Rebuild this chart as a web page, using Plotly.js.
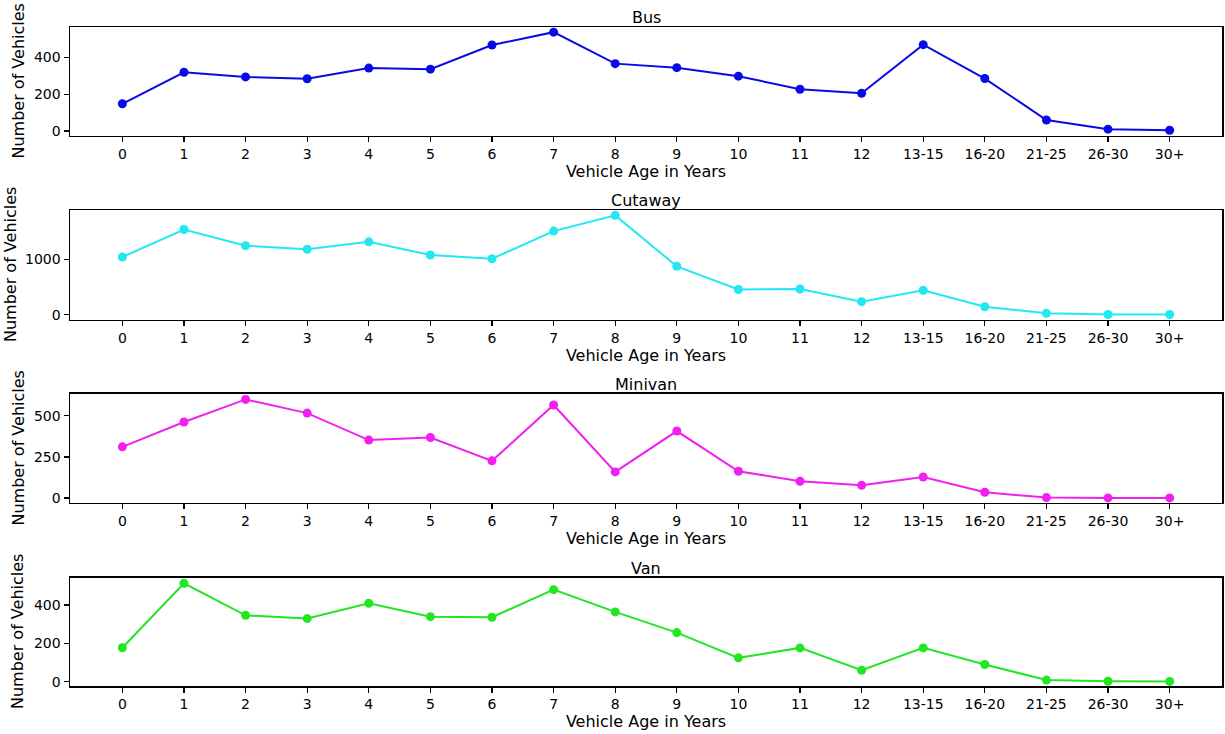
<!DOCTYPE html>
<html>
<head>
<meta charset="utf-8">
<script src="https://cdn.plot.ly/plotly-3.0.1.min.js"></script>
<style>html,body{margin:0;padding:0;background:#fff;}#chart{width:1225px;height:734px;}</style>
</head>
<body>
<div id="chart"></div>
<script>
const ageLabels = ["0","1","2","3","4","5","6","7","8","9","10","11","12","13-15","16-20","21-25","26-30","30+"];
const busValues = [148, 319, 294, 284, 342, 336, 467, 537, 366, 344, 298, 227, 205, 469, 285, 60, 10, 4];
const cutawayValues = [1042, 1538, 1247, 1182, 1315, 1078, 1011, 1509, 1793, 873, 455, 465, 236, 442, 145, 25, 5, 4];
const minivanValues = [311, 462, 599, 516, 352, 368, 226, 565, 159, 407, 163, 102, 78, 128, 35, 3, 1, 1];
const vanValues = [177, 513, 346, 329, 409, 339, 336, 480, 364, 256, 124, 176, 59, 176, 89, 8, 2, 1];
const seriesNames = ["Bus", "Cutaway", "Minivan", "Van"];
const seriesColors = ["#0a0ae8", "#22e8f2", "#f020f0", "#22e622"];

const allValues = [busValues, cutawayValues, minivanValues, vanValues];
const yRanges = [[-27, 565], [-95, 1890], [-30, 632], [-23, 541]];
const yDticks = [200, 1000, 250, 200];
const domains = [[0.8346, 1.0], [0.5554, 0.7223], [0.2777, 0.4431], [0.0, 0.1639]];
const yTitleShift = [-52, -59, -52, -52];

const traces = [];
const layout = {
  width: 1225, height: 734,
  margin: {l: 70, r: 3, t: 27, b: 48},
  paper_bgcolor: "#fff", plot_bgcolor: "#fff",
  showlegend: false,
  font: {family: "DejaVu Sans", size: 14, color: "#000"},
  annotations: []
};

allValues.forEach((vals, i) => {
  const n = i === 0 ? "" : String(i + 1);
  traces.push({
    x: ageLabels, y: vals, type: "scatter", mode: "lines+markers",
    name: seriesNames[i],
    xaxis: "x" + n, yaxis: "y" + n,
    line: {color: seriesColors[i], width: 2},
    marker: {color: seriesColors[i], size: 9},
    cliponaxis: false
  });
  layout["xaxis" + n] = {
    type: "category", categoryorder: "array", categoryarray: ageLabels,
    range: [-0.85, 17.85], anchor: "y" + n, domain: [0, 1],
    showline: true, mirror: true, linecolor: "#000", linewidth: 1.5,
    ticks: "outside", ticklen: 5, tickwidth: 1.3, tickcolor: "#000",
    showgrid: false, zeroline: false, automargin: false,
    tickfont: {family: "DejaVu Sans", size: 14, color: "#000"},
    title: {text: "Vehicle Age in Years", standoff: 0, font: {family: "DejaVu Sans", size: 16, color: "#000"}}
  };
  layout["yaxis" + n] = {
    range: yRanges[i], dtick: yDticks[i], tick0: 0, domain: domains[i], anchor: "x" + n,
    showline: true, mirror: true, linecolor: "#000", linewidth: 1.5,
    ticks: "outside", ticklen: 5, tickwidth: 1.3, tickcolor: "#000",
    showgrid: false, zeroline: false, automargin: false,
    tickfont: {family: "DejaVu Sans", size: 14, color: "#000"}
  };
  layout.annotations.push({
    text: seriesNames[i], xref: "paper", yref: "paper", x: 0.5, y: domains[i][1],
    xanchor: "center", yanchor: "bottom", yshift: -2, showarrow: false,
    font: {family: "DejaVu Sans", size: 16, color: "#000"}
  });
  layout.annotations.push({
    text: "Number of Vehicles", xref: "paper", yref: "paper", x: 0,
    y: (domains[i][0] + domains[i][1]) / 2, xanchor: "center", yanchor: "middle",
    xshift: yTitleShift[i], textangle: -90, showarrow: false,
    font: {family: "DejaVu Sans", size: 16, color: "#000"}
  });
});

Plotly.newPlot("chart", traces, layout, {displayModeBar: false, staticPlot: true});
</script>
</body>
</html>
